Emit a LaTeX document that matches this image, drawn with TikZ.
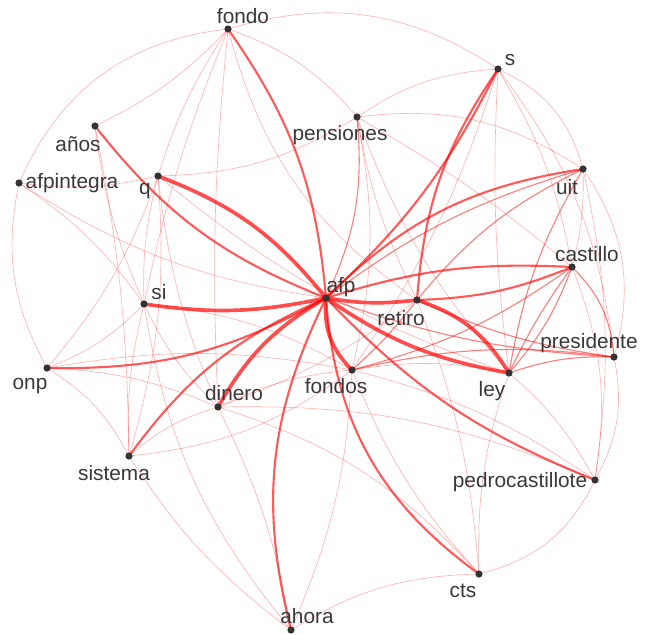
\documentclass[tikz,border=0pt]{standalone}
\usepackage{fontspec}
\setmainfont{Liberation Sans}
\usepackage{tikz}
\colorlet{linkred}{red}
\colorlet{dotgray}{black!80}
\colorlet{wordgray}{black!78}

\begin{document}
\begin{tikzpicture}[x=0.025cm, y=-0.025cm,
    weak/.style={draw=linkred, line width=0.45pt, opacity=0.3},
    fair/.style={draw=linkred, line width=0.8pt, opacity=0.5},
    strong/.style={draw=linkred, line width=1.5pt, opacity=0.65},
    heavy/.style={draw=linkred, line width=2.6pt, opacity=0.7},
    word/.style={font=\fontsize{14.8}{17}\selectfont, text=wordgray, inner sep=0pt}]
    \useasboundingbox (0,0) rectangle (649,634);

    % word positions
    \foreach \n/\x/\y in {fondo/228/29, s/498/69, anos/95/126, pensiones/357/117,
        afpintegra/19/183, q/158/176, uit/583/169, castillo/572/267, si/144/304,
        afp/326/298, retiro/417/300, presidente/614/357, onp/47/368, fondos/352/370,
        ley/509/373, dinero/218/407, sistema/129/456, pedrocastillote/595/480,
        cts/479/574, ahora/291/630}
      { \coordinate (\n) at (\x,\y); }

    % links between words
    \foreach \a/\b/\s/\bd in {fondo/s/weak/25, s/uit/weak/25, uit/presidente/weak/25,
        presidente/pedrocastillote/weak/20, pedrocastillote/cts/weak/25, ahora/cts/weak/15,
        ahora/si/weak/15, ahora/sistema/weak/10, onp/afpintegra/weak/20, afpintegra/fondo/weak/30,
        anos/fondo/weak/-10, fondo/pensiones/weak/15, fondo/q/weak/-8, fondo/si/weak/-5,
        fondo/dinero/weak/-4, fondo/retiro/weak/-20, q/pensiones/weak/-15, pensiones/s/weak/15,
        pensiones/uit/weak/20, pensiones/castillo/weak/5, pensiones/ley/weak/-10,
        pensiones/retiro/weak/-8, pensiones/fondos/weak/12, s/castillo/weak/10, s/ley/weak/-5,
        s/presidente/weak/15, s/fondos/weak/8, castillo/pedrocastillote/weak/15,
        ley/pedrocastillote/weak/10, ley/cts/weak/-10, retiro/cts/weak/8,
        pedrocastillote/fondos/weak/-10, pedrocastillote/dinero/weak/-12, cts/dinero/weak/-15,
        ahora/dinero/weak/-8, ahora/fondos/weak/-10, sistema/si/weak/8, sistema/onp/weak/-15,
        sistema/dinero/weak/12, sistema/fondos/weak/-15, onp/si/weak/-12, onp/q/weak/-10,
        onp/dinero/weak/10, onp/fondos/weak/10, si/q/weak/8, si/dinero/weak/-10,
        si/afpintegra/weak/-10, q/afpintegra/weak/10, q/dinero/weak/-8, q/sistema/weak/10,
        anos/si/weak/-8, anos/sistema/weak/5, afpintegra/afp/weak/-12, dinero/fondos/weak/10,
        dinero/retiro/weak/-8, fondos/ley/weak/10, uit/castillo/weak/8, si/fondos/weak/12,
        q/ley/weak/-10, cts/fondos/weak/10, uit/pedrocastillote/weak/10}
      { \draw[\s] (\a) to[bend left=\bd] (\b); }

    \foreach \a/\b/\s/\bd in {uit/ley/fair/-10, castillo/presidente/fair/20, castillo/ley/fair/10,
        castillo/ley/fair/-5, presidente/ley/fair/-10, presidente/fondos/fair/-10,
        retiro/presidente/fair/-8, castillo/fondos/fair/10, retiro/fondos/fair/5,
        pensiones/afp/fair/15, afp/presidente/fair/-8, afp/uit/fair/10,
        retiro/uit/fair/12}
      { \draw[\s] (\a) to[bend left=\bd] (\b); }

    \foreach \a/\b/\s/\bd in {fondo/afp/strong/15, anos/afp/strong/-15, onp/afp/strong/-15,
        sistema/afp/strong/15, ahora/afp/strong/20, afp/pedrocastillote/strong/-12,
        afp/s/strong/-10, afp/uit/strong/18, afp/castillo/strong/10, retiro/s/strong/15,
        retiro/castillo/strong/-10, afp/cts/strong/-25}
      { \draw[\s] (\a) to[bend left=\bd] (\b); }

    \foreach \a/\b/\s/\bd in {q/afp/heavy/15, si/afp/heavy/-10, dinero/afp/heavy/15,
        afp/fondos/heavy/-25, afp/retiro/heavy/-8, afp/ley/heavy/-12, retiro/ley/heavy/20}
      { \draw[\s] (\a) to[bend left=\bd] (\b); }

    % dots
    \foreach \n in {fondo, s, anos, pensiones, afpintegra, q, uit, castillo, si, afp, retiro,
        presidente, onp, fondos, ley, dinero, sistema, pedrocastillote, cts, ahora}
      { \fill[dotgray] (\n) circle (3.6); }

    % words
    \foreach \n/\x/\y/\t in {fondo/243/16/fondo, s/510/60/s, anos/78/144/años,
        pensiones/340/135/pensiones, afpintegra/72/183/afpintegra, q/145/191/q,
        uit/567/187/uit, castillo/587/254/castillo, si/159/292/si, afp/341/287/afp,
        retiro/401/318/retiro, presidente/589/343/presidente, onp/30/386/onp,
        fondos/336/386/fondos, ley/492/391/ley, dinero/234/393/dinero,
        sistema/114/473/sistema, pedrocastillote/520/482/pedrocastillote,
        cts/463/591/cts, ahora/307/616/ahora}
      { \node[word] (\n-w) at (\x,\y) {\t}; }
\end{tikzpicture}
\end{document}
